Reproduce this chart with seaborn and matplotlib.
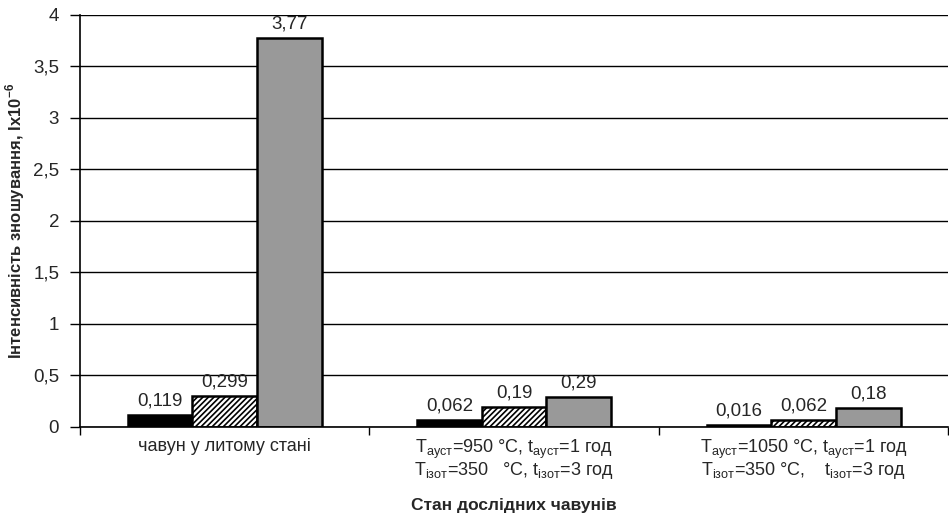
import matplotlib
matplotlib.use("Agg")
import matplotlib.pyplot as plt
import seaborn as sns
import pandas as pd

# Дані з графіка
stany = [
    "чавун у литому стані",
    "T$_{\\mathregular{ауст}}$=950 °C, t$_{\\mathregular{ауст}}$=1 год\n"
    "T$_{\\mathregular{ізот}}$=350   °C, t$_{\\mathregular{ізот}}$=3 год",
    "T$_{\\mathregular{ауст}}$=1050 °C, t$_{\\mathregular{ауст}}$=1 год\n"
    "T$_{\\mathregular{ізот}}$=350 °C,    t$_{\\mathregular{ізот}}$=3 год",
]
serii = ["s1", "s2", "s3"]
znachennia_s1 = [0.119, 0.062, 0.016]
znachennia_s2 = [0.299, 0.19, 0.062]
znachennia_s3 = [3.77, 0.29, 0.18]
pidpysy_s1 = ["0,119", "0,062", "0,016"]
pidpysy_s2 = ["0,299", "0,19", "0,062"]
pidpysy_s3 = ["3,77", "0,29", "0,18"]
y_ticks = [0, 0.5, 1, 1.5, 2, 2.5, 3, 3.5, 4]
y_ticklabels = ["0", "0,5", "1", "1,5", "2", "2,5", "3", "3,5", "4"]

df = pd.DataFrame({
    "stan": stany * 3,
    "seriia": [s for s in serii for _ in stany],
    "znach": znachennia_s1 + znachennia_s2 + znachennia_s3,
})

sns.set_theme(style="white")
plt.rcParams["font.family"] = ["Liberation Sans", "DejaVu Sans"]
plt.rcParams["mathtext.fontset"] = "custom"
plt.rcParams["mathtext.rm"] = "Liberation Sans"
plt.rcParams["mathtext.bf"] = "Liberation Sans:bold"
plt.rcParams["hatch.linewidth"] = 1.2

fig = plt.figure(figsize=(9.49, 5.25), dpi=100)
ax = fig.add_axes([0.0843, 0.187, 0.915, 0.785])

sns.barplot(
    data=df, x="stan", y="znach", hue="seriia", order=stany, hue_order=serii,
    palette=["#000000", "#ffffff", "#999999"], width=0.67, saturation=1,
    edgecolor="black", linewidth=1.8, legend=False, ax=ax,
)

for bar in ax.containers[1]:
    bar.set_hatch("//////")

for cont, labels in zip(ax.containers, [pidpysy_s1, pidpysy_s2, pidpysy_s3]):
    ax.bar_label(cont, labels=labels, padding=4, fontsize=13.5)

ax.set_ylim(0, 4)
ax.set_xlim(-0.5, 2.5)
ax.set_yticks(y_ticks)
ax.set_yticklabels(y_ticklabels, fontsize=13.5)
ax.yaxis.grid(True, color="black", linewidth=1)
ax.set_axisbelow(True)

# мітки між категоріями, підписи в центрі
ax.set_xticks([-0.5, 0.5, 1.5, 2.5])
ax.set_xticklabels([])
ax.set_xticks([0, 1, 2], minor=True)
ax.set_xticklabels(stany, minor=True, fontsize=13, linespacing=0.95)
ax.tick_params(axis="x", which="major", direction="out", length=6, width=1, color="black", bottom=True)
ax.tick_params(axis="x", which="minor", length=0, pad=8)
ax.tick_params(axis="y", direction="out", length=7, width=1, color="black", left=True, pad=8)

for s in ["top", "right"]:
    ax.spines[s].set_visible(False)
for s in ["left", "bottom"]:
    ax.spines[s].set_color("black")
    ax.spines[s].set_linewidth(1.2)

ax.set_xlabel("Стан дослідних чавунів", fontsize=12.5, fontweight="bold", labelpad=12)
ax.set_ylabel("Інтенсивність зношування, Іх10$^{\\mathbf{-6}}$", fontsize=12, fontweight="bold", labelpad=4)

fig.savefig("out.png", dpi=100)
